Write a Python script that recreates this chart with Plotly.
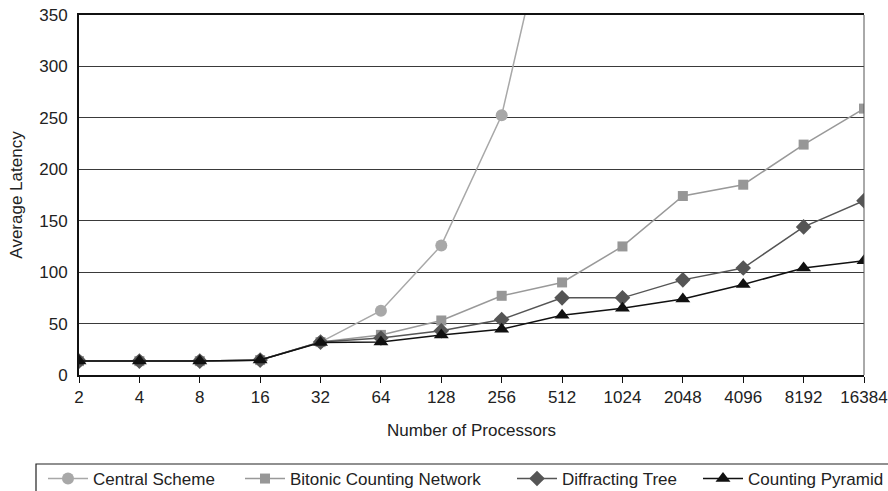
import plotly.graph_objects as go

processors = ["2", "4", "8", "16", "32", "64", "128", "256", "512", "1024", "2048", "4096", "8192", "16384"]

central = [13.5, 13.5, 13.5, 14.5, 32, 62.5, 126, 252.5, 507]
bitonic = [13.5, 13.5, 13.5, 14.5, 32, 39, 53, 77, 90, 125, 174, 185, 224, 259]
diffracting = [13.5, 13.5, 13.5, 14.5, 32, 36, 43, 54, 75, 75, 92.5, 104, 144, 169.5]
pyramid = [13.5, 13.5, 13.5, 14.5, 31.5, 32, 39, 44.5, 58, 65, 74, 88, 104, 111]

y_ticks = [0, 50, 100, 150, 200, 250, 300, 350]

FONT = "Liberation Sans, Arial, sans-serif"
W, H = 888, 491
ML, MR, MT, MB = 79, 24, 15, 116

fig = go.Figure()
fig.add_trace(go.Scatter(
    x=processors[:len(central)], y=central, name="Central Scheme", mode="lines+markers",
    line=dict(color="#a8a8a8", width=1.5),
    marker=dict(symbol="circle", size=12, color="#a8a8a8"), legend="legend"))
fig.add_trace(go.Scatter(
    x=processors, y=bitonic, name="Bitonic Counting Network", mode="lines+markers",
    line=dict(color="#999999", width=1.5),
    marker=dict(symbol="square", size=10, color="#979797"), legend="legend2"))
fig.add_trace(go.Scatter(
    x=processors, y=diffracting, name="Diffracting Tree", mode="lines+markers",
    line=dict(color="#555555", width=1.5),
    marker=dict(symbol="diamond", size=12, color="#555555"), legend="legend3"))
fig.add_trace(go.Scatter(
    x=processors, y=pyramid, name="Counting Pyramid", mode="lines+markers",
    line=dict(color="#111111", width=1.5),
    marker=dict(symbol="triangle-up", size=13, color="#111111"), legend="legend4"))


def leg(xpx):
    return dict(
        orientation="h", xref="container", yref="container",
        x=xpx / W, y=1 - 461 / H, xanchor="left", yanchor="top",
        borderwidth=0, bgcolor="rgba(0,0,0,0)", itemwidth=40,
        font=dict(family=FONT, size=17, color="#222222"),
        itemclick=False, itemdoubleclick=False,
    )


fig.update_layout(
    width=W, height=H,
    margin=dict(l=ML, r=MR, t=MT, b=MB, autoexpand=False),
    paper_bgcolor="white", plot_bgcolor="white",
    font=dict(family=FONT, size=17, color="#222222"),
    showlegend=True,
    legend=leg(43), legend2=leg(240), legend3=leg(512), legend4=leg(698),
)

fig.update_xaxes(
    type="category", categoryorder="array", categoryarray=processors,
    range=[0, len(processors) - 1], automargin=False,
    showgrid=False, showline=True, mirror=True, linecolor="#111111", linewidth=1.5,
    ticks="outside", ticklen=6, tickcolor="#111111", tickwidth=1,
    tickfont=dict(family=FONT, size=17, color="#222222"),
    ticklabelstandoff=0,
    title=dict(text="Number of Processors", font=dict(family=FONT, size=17, color="#222222"), standoff=18),
)
fig.update_yaxes(
    range=[0, 350], tickvals=y_ticks, automargin=False,
    showgrid=True, gridcolor="#3a3a3a", gridwidth=1,
    showline=True, linecolor="#111111", linewidth=2,
    ticks="", ticklabelstandoff=6,
    tickfont=dict(family=FONT, size=17, color="#222222"),
    zeroline=False,
    title=dict(text="Average Latency", font=dict(family=FONT, size=17, color="#222222"), standoff=12),
)

pw, ph = W - ML - MR, H - MT - MB
# right border of the plot area
fig.add_shape(type="line", xref="paper", yref="paper", x0=1, x1=1, y0=0, y1=1,
              line=dict(color="#555555", width=1))
# legend frame (runs past the right and bottom edges, as in the reference)
fig.add_shape(type="rect", xref="paper", yref="paper",
              x0=(36 - ML) / pw, x1=(910 - ML) / pw,
              y0=(H - MB - 464) / ph, y1=(H - MB - 510) / ph,
              line=dict(color="#222222", width=1.2), fillcolor="rgba(0,0,0,0)", layer="below")

fig.write_html("out.html", config={"displayModeBar": False},
               post_script="document.body.style.margin='0px';")
